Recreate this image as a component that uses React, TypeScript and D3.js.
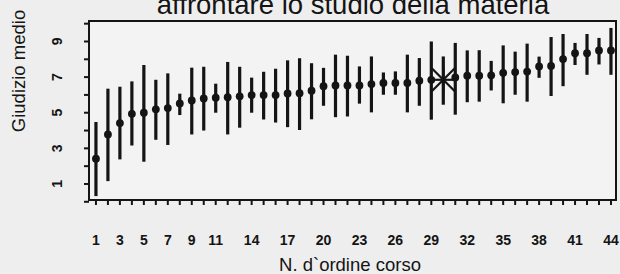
import React from "react";
import * as d3 from "d3";

// dati: media e intervallo per ogni corso
const corsi = d3.range(1, 45);
const medie = [2.42, 3.78, 4.42, 4.94, 5.0, 5.19, 5.26, 5.52, 5.69, 5.8, 5.84, 5.87, 5.92, 5.99, 5.99, 5.99, 6.08, 6.1, 6.24, 6.49, 6.53, 6.53, 6.53, 6.61, 6.67, 6.67, 6.67, 6.8, 6.85, 6.85, 6.98, 7.08, 7.08, 7.1, 7.24, 7.28, 7.31, 7.6, 7.63, 8.01, 8.34, 8.34, 8.5, 8.5];
const massimi = [4.48, 6.35, 6.46, 6.76, 7.68, 6.85, 7.21, 6.07, 7.53, 7.58, 6.63, 7.85, 7.58, 6.97, 7.3, 7.47, 7.94, 8.06, 7.78, 7.52, 8.26, 8.2, 7.6, 8.16, 7.26, 7.32, 8.26, 8.07, 9.0, 8.16, 8.92, 8.5, 8.51, 7.91, 8.78, 8.43, 8.88, 8.15, 9.25, 9.42, 8.92, 9.42, 9.2, 9.76];
const minimi = [0.32, 1.16, 2.38, 3.16, 2.25, 3.48, 3.19, 4.87, 3.78, 4.0, 5.0, 3.78, 4.16, 5.0, 4.62, 4.45, 4.19, 4.03, 4.63, 5.39, 4.75, 4.79, 5.51, 5.02, 6.01, 6.01, 5.02, 5.39, 4.61, 5.45, 4.89, 5.59, 5.62, 6.25, 5.53, 6.01, 5.62, 6.96, 5.94, 6.49, 7.68, 7.13, 7.71, 7.13];
const corsoEvidenziato = 30; // quello con l'asterisco
const xTickLabels = [1, 3, 5, 7, 9, 11, 14, 17, 20, 23, 26, 29, 32, 35, 38, 41, 44];
const yTicks = d3.range(0, 11);
const yTickLabels = [1, 3, 5, 7, 9];

const W = 620;
const H = 274;
const box = { left: 89, right: 616, top: 21, bottom: 200 };
const ink = "#141414";
const font = "'Liberation Sans', Arial, sans-serif";

export default function App() {
  const x = d3.scaleLinear().domain([0.42, 44.42]).range([box.left, box.right]);
  const y = d3.scaleLinear().domain([0.1, 10.15]).range([box.bottom, box.top]);

  const righe = corsi.map((c, i) => ({ c, m: medie[i], lo: minimi[i], hi: massimi[i] }));

  return (
    <svg width={W} height={H} style={{ position: "absolute", left: 0, top: 0 }}>
      <rect width={W} height={H} fill="#eeeeee" />
      <rect x={box.left} y={box.top} width={box.right - box.left} height={box.bottom - box.top} fill="#f3f3f3" />

      {/* titolo, tagliato in alto come nella scansione */}
      <text x={353} y={13.5} textAnchor="middle" fontFamily={font} fontSize={27.5} fill={ink}>
        affrontare lo studio della materia
      </text>

      {/* barre */}
      {righe.map(d => (
        <line key={"b" + d.c} x1={x(d.c)} x2={x(d.c)} y1={y(d.lo)} y2={y(d.hi)} stroke={ink} strokeWidth={3.2} />
      ))}
      {righe.filter(d => d.c !== corsoEvidenziato).map(d => (
        <circle key={"p" + d.c} cx={x(d.c)} cy={y(d.m)} r={3.9} fill={ink} />
      ))}
      {righe.filter(d => d.c === corsoEvidenziato).map(d => {
        const cx = x(d.c), cy = y(d.m), s = 11.5;
        return (
          <g key="star" stroke={ink} strokeWidth={2.2}>
            <line x1={cx - s} x2={cx + s} y1={cy} y2={cy} />
            <line x1={cx} x2={cx} y1={cy - s} y2={cy + s} />
            <line x1={cx - s} x2={cx + s} y1={cy - s} y2={cy + s} />
            <line x1={cx - s} x2={cx + s} y1={cy + s} y2={cy - s} />
          </g>
        );
      })}

      {/* cornice */}
      <rect x={box.left} y={box.top} width={box.right - box.left} height={box.bottom - box.top} fill="none" stroke={ink} strokeWidth={2} />

      {/* asse x */}
      {corsi.map(c => (
        <line key={"tx" + c} x1={x(c)} x2={x(c)} y1={box.bottom} y2={box.bottom + 5} stroke={ink} strokeWidth={2} />
      ))}
      {xTickLabels.map(c => (
        <text key={"lx" + c} x={x(c)} y={244.5} textAnchor="middle" fontFamily={font} fontSize={14} fontWeight="bold" fill={ink}>
          {c}
        </text>
      ))}
      <text x={350} y={271} textAnchor="middle" fontFamily={font} fontSize={18.5} fill={ink}>
        N. d`ordine corso
      </text>

      {/* asse y */}
      {yTicks.map(v => (
        <line key={"ty" + v} x1={box.left - 5} x2={box.left} y1={y(v)} y2={y(v)} stroke={ink} strokeWidth={2} />
      ))}
      {yTickLabels.map(v => (
        <text key={"ly" + v} transform={`translate(62,${y(v)}) rotate(-90)`} textAnchor="middle" fontFamily={font} fontSize={14} fontWeight="bold" fill={ink}>
          {v}
        </text>
      ))}
      <text transform="translate(25,71) rotate(-90)" textAnchor="middle" fontFamily={font} fontSize={18.5} fill={ink}>
        Giudizio medio
      </text>
    </svg>
  );
}
